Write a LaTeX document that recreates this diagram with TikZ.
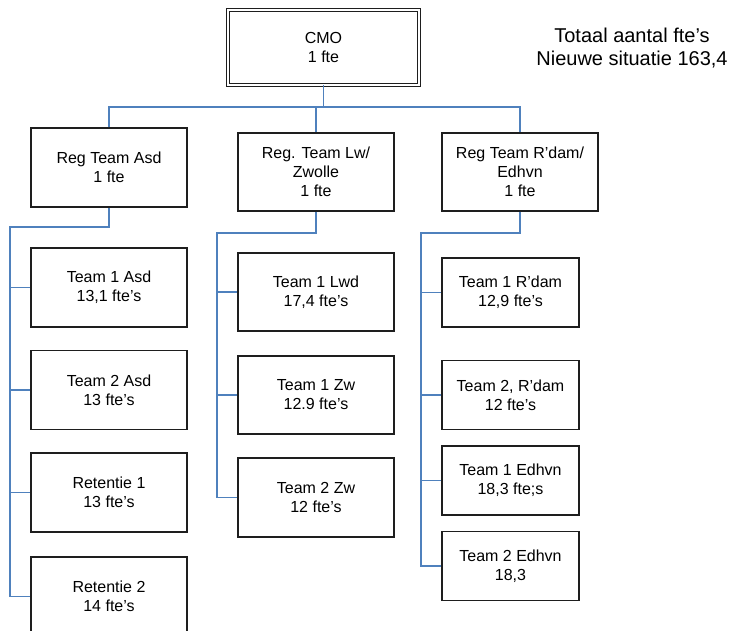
\documentclass[tikz,border=0pt]{standalone}
\usepackage{fontspec}
\setmainfont{Liberation Sans}
\definecolor{connblue}{RGB}{79,129,189}
\definecolor{boxline}{RGB}{30,30,30}
\begin{document}
\begin{tikzpicture}[x=1pt,y=-1pt,
  box/.style={draw=boxline,line width=1.3pt,rectangle,inner sep=0pt,align=center,
    font=\fontsize{16}{19}\selectfont,minimum width=156pt,minimum height=79pt},
  smallbox/.style={box,minimum width=137pt,minimum height=69pt},
  topbox/.style={box,double=white,double distance=2.6pt,line width=0.9pt,
    minimum width=191pt,minimum height=75pt},
  conn/.style={draw=connblue,line width=1.5pt}]
\useasboundingbox (0,0) rectangle (732,631);
\clip (0,0) rectangle (732,631);
% nodes
\node[topbox] (cmo) at (323.5,47.5) {CMO\\1 fte};
\node[align=center,inner sep=0pt,font=\fontsize{20}{23}\selectfont] (tot) at (632,48.3) {Totaal aantal fte’s\\Nieuwe situatie 163,4};
\node[box] (asd) at (109,167.5) {Reg Team Asd\\1 fte};
\node[box,minimum height=78pt] (lw) at (316,172) {Reg. Team Lw/\\Zwolle\\1 fte};
\node[box,minimum height=78pt] (rd) at (520,172) {Reg Team R’dam/\\Edhvn\\1 fte};
\node[box] (t1a) at (109,287.5) {Team 1 Asd\\13,1 fte’s};
\node[box] (t2a) at (109,390) {Team 2 Asd\\13 fte’s};
\node[box] (ret1) at (109,492.5) {Retentie 1\\13 fte’s};
\node[box] (ret2) at (109,596.5) {Retentie 2\\14 fte’s};
\node[box,minimum height=78pt] (t1l) at (316,292) {Team 1 Lwd\\17,4 fte’s};
\node[box,minimum height=78pt] (t1z) at (316,395) {Team 1 Zw\\12.9 fte’s};
\node[box] (t2z) at (316,497.5) {Team 2 Zw\\12 fte’s};
\node[smallbox] (t1r) at (510.5,292.5) {Team 1 R’dam\\12,9 fte’s};
\node[smallbox] (t2r) at (510.5,395) {Team 2, R’dam\\12 fte’s};
\node[smallbox] (t1e) at (510.5,480.5) {Team 1 Edhvn\\18,3 fte;s};
\node[smallbox] (t2e) at (510.5,566) {Team 2 Edhvn\\18,3};
% coordinates
\coordinate (bus) at (0,107);
\coordinate (asdL) at (10,227);
\coordinate (lwL) at (217,233);
\coordinate (rdL) at (421,233);
% top connectors
\draw[conn] (cmo.south) -- (cmo.south |- bus);
\draw[conn] (asd.north) -- (asd.north |- bus) -- (rd.north |- bus) -- (rd.north);
\draw[conn] (lw.north |- bus) -- (lw.north);
% Asd branch
\draw[conn] (asd.south) -- (asd.south |- asdL) -- (asdL) -- (asdL |- ret2.west) -- (ret2.west);
\draw[conn] (asdL |- t1a.west) -- (t1a.west);
\draw[conn] (asdL |- t2a.west) -- (t2a.west);
\draw[conn] (asdL |- ret1.west) -- (ret1.west);
% Lw branch
\draw[conn] (lw.south) -- (lw.south |- lwL) -- (lwL) -- (lwL |- t2z.west) -- (t2z.west);
\draw[conn] (lwL |- t1l.west) -- (t1l.west);
\draw[conn] (lwL |- t1z.west) -- (t1z.west);
% R'dam branch
\draw[conn] (rd.south) -- (rd.south |- rdL) -- (rdL) -- (rdL |- t2e.west) -- (t2e.west);
\draw[conn] (rdL |- t1r.west) -- (t1r.west);
\draw[conn] (rdL |- t2r.west) -- (t2r.west);
\draw[conn] (rdL |- t1e.west) -- (t1e.west);
\end{tikzpicture}
\end{document}
